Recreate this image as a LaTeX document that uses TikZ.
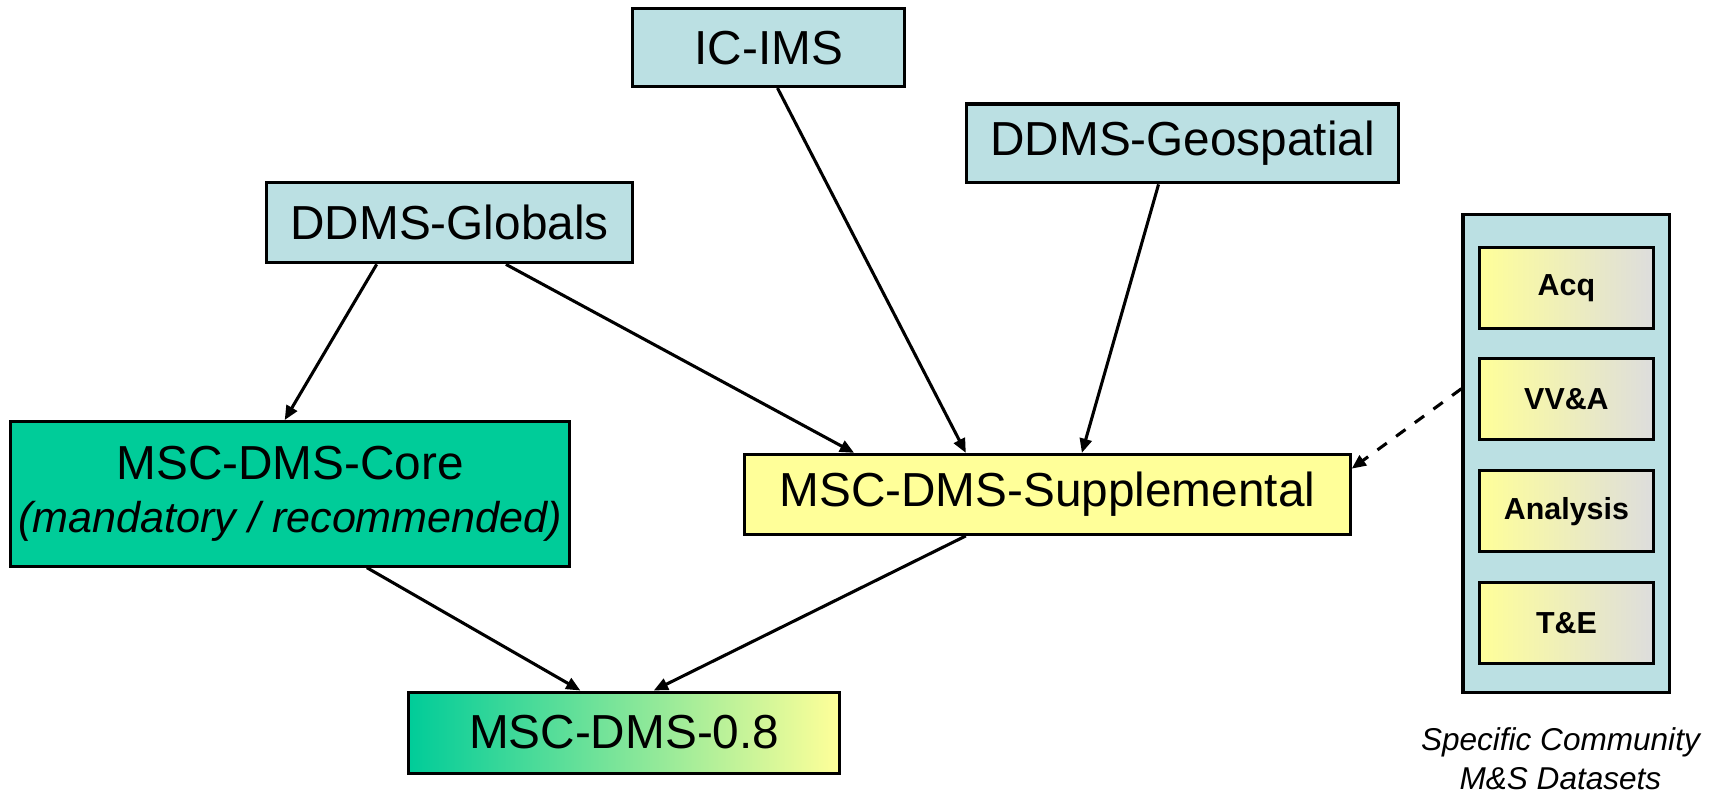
\documentclass[tikz,border=0pt]{standalone}
\usepackage{fontspec}
\setmainfont{Liberation Sans}
\usetikzlibrary{arrows.meta}

\begin{document}
\begin{tikzpicture}[
		bluebox/.style={draw, fill=dmsBlue, line width=0.8pt, inner sep=0pt, font=\boxfont},
		tagbox/.style={draw, left color=dmsYellow, right color=dmsGray, line width=0.8pt, minimum width=1.59cm, minimum height=0.74cm, inner sep=0pt, font=\tagfont},
		link/.style={line width=0.8pt, -{Triangle[length=1.3mm, width=1.1mm]}}]
		
		\def\W{15.68} % Width of the picture
		
		\def\H{7.22} % Height of the picture
		
		% Define colors
		
		\definecolor{dmsBlue}{RGB}{187,224,227}
		
		\definecolor{dmsGreen}{RGB}{0,204,153}
		
		\definecolor{dmsYellow}{RGB}{255,255,153}
		
		\definecolor{dmsGray}{RGB}{221,221,221}
		
		% Define the font sizes
		
		\newcommand{\boxfont}{\fontsize{12.4}{13.7}\selectfont}
		
		\newcommand{\notefont}{\fontsize{11.2}{13.7}\selectfont\itshape}
		
		\newcommand{\tagfont}{\fontsize{7.9}{9}\selectfont\bfseries}
		
		\useasboundingbox (0,0) rectangle (\W,\H);
		
		% Source schemas
		
		\node[bluebox, minimum width=2.48cm, minimum height=0.71cm] (icims) at (7.02,6.785) {IC-IMS};
		
		\node[bluebox, minimum width=3.94cm, minimum height=0.72cm] (geo) at (10.80,5.91) {DDMS-Geospatial};
		
		\node[bluebox, minimum width=3.35cm, minimum height=0.73cm] (globals) at (4.105,5.185) {DDMS-Globals};
		
		% Core and supplemental
		
		\node[draw, fill=dmsGreen, line width=0.8pt, minimum width=5.10cm, minimum height=1.32cm, inner sep=0pt, align=center, font=\boxfont] (core) at (2.65,2.71) {MSC-DMS-Core\\{\notefont(mandatory / recommended)}};
		
		\node[draw, fill=dmsYellow, line width=0.8pt, minimum width=5.53cm, minimum height=0.73cm, inner sep=0pt, font=\boxfont] (supp) at (9.565,2.705) {MSC-DMS-Supplemental};
		
		% Result
		
		\node[draw, left color=dmsGreen, middle color=dmsGreen!35!dmsYellow, right color=dmsYellow, line width=0.8pt, minimum width=3.94cm, minimum height=0.74cm, inner sep=0pt, font=\boxfont] (result) at (5.70,0.53) {MSC-DMS-0.8};
		
		% Community datasets
		
		\node[draw, fill=dmsBlue, line width=0.8pt, minimum width=1.89cm, minimum height=4.36cm] (community) at (14.305,3.08) {};
		
		\node[tagbox] (acq) at (14.305,4.59) {Acq};
		
		\node[tagbox] (vva) at (14.305,3.575) {VV\&A};
		
		\node[tagbox] (analysis) at (14.305,2.55) {Analysis};
		
		\node[tagbox] (te) at (14.305,1.53) {T\&E};
		
		\node[align=center, font=\fontsize{8.2}{10}\selectfont\itshape] (caption) at (14.25,0.29) {Specific Community\\M\&S Datasets};
		
		% Connectors
		
		\draw[link] ([xshift=-6.65mm]globals.south) -- ([xshift=-0.5mm]core.north);
		
		\draw[link] ([xshift=5.15mm]globals.south) -- ([xshift=-17.65mm]supp.north);
		
		\draw[link] ([xshift=0.8mm]icims.south) -- ([xshift=-7.45mm]supp.north);
		
		\draw[link] ([xshift=-2.2mm]geo.south) -- ([xshift=3.15mm]supp.north);
		
		\draw[link, dashed] ([yshift=5.9mm]community.west) -- ([yshift=2.35mm]supp.east);
		
		\draw[link] ([xshift=7mm]core.south) -- ([xshift=-4mm]result.north);
		
		\draw[link] ([xshift=-7.45mm]supp.south) -- ([xshift=2.7mm]result.north);
		
	\end{tikzpicture}
\end{document}
